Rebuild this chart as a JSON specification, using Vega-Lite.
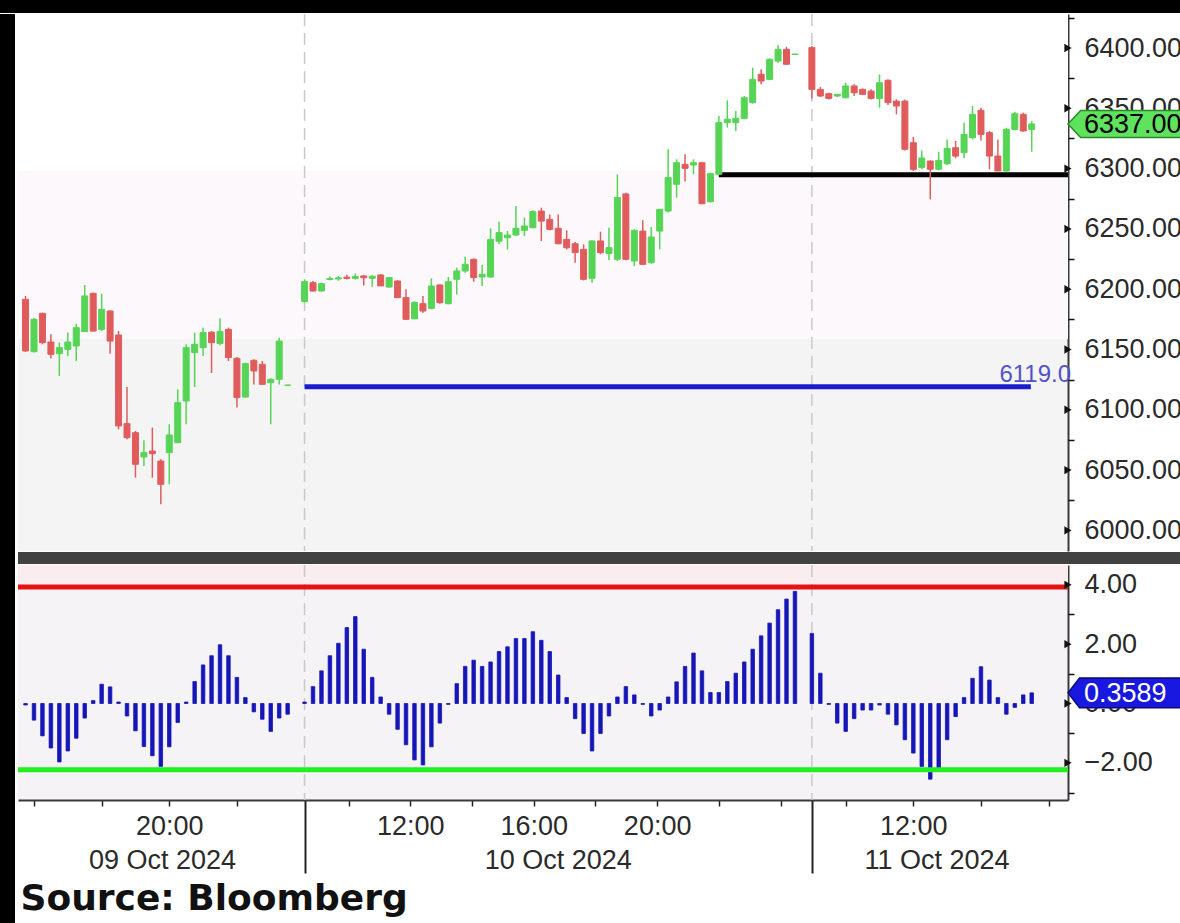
{
  "padding": 0,
  "background": "white",
  "spacing": 0,
  "config": {"view": {"stroke": null}, "text": {"font": "Liberation Sans"}},
  "datasets": {
    "candles": [
      {"s":0,"o":6191.6,"h":6194.4,"l":6148,"c":6148.8},
      {"s":1,"o":6148.2,"h":6176.4,"l":6147.4,"c":6175},
      {"s":2,"o":6180,"h":6180.5,"l":6154.3,"c":6155.7},
      {"s":3,"o":6156.2,"h":6162.6,"l":6142.7,"c":6146},
      {"s":4,"o":6146.5,"h":6155.7,"l":6128,"c":6151.5},
      {"s":5,"o":6150.1,"h":6164,"l":6144.6,"c":6156.2},
      {"s":6,"o":6152.9,"h":6171.4,"l":6140.5,"c":6168.1},
      {"s":7,"o":6164.8,"h":6203.5,"l":6164.8,"c":6194.4},
      {"s":8,"o":6196.6,"h":6197.1,"l":6164.8,"c":6165.3},
      {"s":9,"o":6166.7,"h":6196.3,"l":6165.3,"c":6183.3},
      {"s":10,"o":6181.9,"h":6182.5,"l":6146.5,"c":6157},
      {"s":11,"o":6162,"h":6165.3,"l":6083.8,"c":6086.6},
      {"s":12,"o":6088.5,"h":6118.9,"l":6075.5,"c":6076.9},
      {"s":13,"o":6081,"h":6082.4,"l":6043.7,"c":6054.8},
      {"s":14,"o":6060.9,"h":6074.7,"l":6053.4,"c":6064.5},
      {"s":15,"o":6065.8,"h":6085.2,"l":6043.7,"c":6063.6},
      {"s":16,"o":6057.5,"h":6058.9,"l":6021.6,"c":6038.2},
      {"s":17,"o":6064.5,"h":6088,"l":6038.2,"c":6079.1},
      {"s":18,"o":6072.7,"h":6117,"l":6072.7,"c":6105.9},
      {"s":19,"o":6107.3,"h":6154.3,"l":6088,"c":6151.5},
      {"s":20,"o":6147.4,"h":6164,"l":6118.9,"c":6154.3},
      {"s":21,"o":6151.5,"h":6168.1,"l":6144.6,"c":6164},
      {"s":22,"o":6164.3,"h":6165.3,"l":6130.5,"c":6155.7},
      {"s":23,"o":6155,"h":6176,"l":6153.5,"c":6165},
      {"s":24,"o":6166.7,"h":6168.1,"l":6140.5,"c":6143.3},
      {"s":25,"o":6142.7,"h":6143.8,"l":6101.8,"c":6110.1},
      {"s":26,"o":6110.6,"h":6139.1,"l":6110.1,"c":6138.3},
      {"s":27,"o":6141,"h":6141.9,"l":6121,"c":6132.2},
      {"s":28,"o":6137.7,"h":6140.5,"l":6121,"c":6121.1},
      {"s":29,"o":6122.5,"h":6126,"l":6088,"c":6125.3},
      {"s":30,"o":6125.3,"h":6159.8,"l":6121,"c":6157},
      {"s":31,"o":6120.3,"h":6120.6,"l":6120,"c":6120.5},
      {"s":33,"o":6189.7,"h":6208.2,"l":6189,"c":6206.3},
      {"s":34,"o":6205.4,"h":6206.8,"l":6198,"c":6198.5},
      {"s":35,"o":6198.5,"h":6205.4,"l":6198,"c":6204.6},
      {"s":36,"o":6208,"h":6210.5,"l":6207.5,"c":6208.8},
      {"s":37,"o":6208.5,"h":6211,"l":6207,"c":6209.4},
      {"s":38,"o":6210,"h":6212,"l":6208,"c":6209},
      {"s":39,"o":6209,"h":6213,"l":6208,"c":6210.5},
      {"s":40,"o":6211,"h":6211.5,"l":6203,"c":6209.5},
      {"s":41,"o":6209,"h":6211.5,"l":6202,"c":6210.8},
      {"s":42,"o":6211.8,"h":6212.4,"l":6202.7,"c":6202.7},
      {"s":43,"o":6201.8,"h":6210.1,"l":6201.3,"c":6209.6},
      {"s":44,"o":6206.8,"h":6207.4,"l":6193,"c":6193},
      {"s":45,"o":6193,"h":6199.9,"l":6175,"c":6175},
      {"s":46,"o":6175.5,"h":6190,"l":6175,"c":6189},
      {"s":47,"o":6188,"h":6194.4,"l":6180.5,"c":6181.9},
      {"s":48,"o":6184.1,"h":6209,"l":6183.3,"c":6202.6},
      {"s":49,"o":6203.5,"h":6204,"l":6188,"c":6188.8},
      {"s":50,"o":6188,"h":6210.1,"l":6187.4,"c":6206.2},
      {"s":51,"o":6208.2,"h":6217.8,"l":6195.7,"c":6215.1},
      {"s":52,"o":6215.1,"h":6226.7,"l":6213.7,"c":6220.6},
      {"s":53,"o":6224.8,"h":6225.6,"l":6206.2,"c":6209.6},
      {"s":54,"o":6210.1,"h":6220,"l":6202.6,"c":6212.3},
      {"s":55,"o":6210.1,"h":6250.5,"l":6209.6,"c":6241.3},
      {"s":56,"o":6239.8,"h":6256,"l":6237.2,"c":6246.9},
      {"s":57,"o":6242.7,"h":6248.2,"l":6233,"c":6244.9},
      {"s":58,"o":6244.9,"h":6269,"l":6244.1,"c":6250.5},
      {"s":59,"o":6248.8,"h":6259.3,"l":6244.1,"c":6252.4},
      {"s":60,"o":6251,"h":6265.4,"l":6250.5,"c":6264.3},
      {"s":61,"o":6264.8,"h":6267.6,"l":6240,"c":6256.5},
      {"s":62,"o":6257.9,"h":6262,"l":6248.8,"c":6249.6},
      {"s":63,"o":6250.5,"h":6262,"l":6237.2,"c":6237.7},
      {"s":64,"o":6241.3,"h":6248.8,"l":6233,"c":6234.4},
      {"s":65,"o":6237.7,"h":6239.1,"l":6222,"c":6230.3},
      {"s":66,"o":6233,"h":6237.2,"l":6207.3,"c":6208.2},
      {"s":67,"o":6209,"h":6240.5,"l":6205.4,"c":6240},
      {"s":68,"o":6240,"h":6247.7,"l":6228.9,"c":6230.3},
      {"s":69,"o":6229.5,"h":6251,"l":6223.9,"c":6234.4},
      {"s":70,"o":6224.8,"h":6295.2,"l":6223.4,"c":6276},
      {"s":71,"o":6279,"h":6280,"l":6224,"c":6224.8},
      {"s":72,"o":6223.4,"h":6249.6,"l":6219.2,"c":6248.8},
      {"s":73,"o":6248.2,"h":6257.1,"l":6220.6,"c":6220.6},
      {"s":74,"o":6222,"h":6251.6,"l":6221.2,"c":6243.3},
      {"s":75,"o":6248.2,"h":6266.2,"l":6233.1,"c":6266.2},
      {"s":76,"o":6264.8,"h":6316,"l":6263.5,"c":6292.5},
      {"s":77,"o":6287,"h":6307.7,"l":6275.9,"c":6304.9},
      {"s":78,"o":6303.5,"h":6311.8,"l":6289.2,"c":6300.2},
      {"s":79,"o":6303,"h":6307.7,"l":6295.3,"c":6304.9},
      {"s":80,"o":6304.9,"h":6305.7,"l":6270.4,"c":6270.9},
      {"s":81,"o":6272.6,"h":6296.6,"l":6271.8,"c":6295.8},
      {"s":82,"o":6295.3,"h":6343.6,"l":6294.7,"c":6338.1},
      {"s":83,"o":6338.1,"h":6356.6,"l":6334,"c":6340.9},
      {"s":84,"o":6338.1,"h":6347.8,"l":6331.2,"c":6341.7},
      {"s":85,"o":6341.7,"h":6360.2,"l":6340.9,"c":6358.8},
      {"s":86,"o":6354.7,"h":6383.7,"l":6353.8,"c":6374},
      {"s":87,"o":6378.2,"h":6382.3,"l":6369.9,"c":6372.6},
      {"s":88,"o":6374,"h":6391.4,"l":6373.2,"c":6390.6},
      {"s":89,"o":6389.2,"h":6402.5,"l":6387.8,"c":6398.9},
      {"s":90,"o":6398.9,"h":6400.8,"l":6386.5,"c":6386.5},
      {"s":91,"o":6394.6,"h":6395.2,"l":6394.5,"c":6395},
      {"s":93,"o":6400.3,"h":6401.7,"l":6358.2,"c":6365.7},
      {"s":94,"o":6365.7,"h":6367.6,"l":6359.3,"c":6360.2},
      {"s":95,"o":6362.1,"h":6362.9,"l":6357.4,"c":6358.2},
      {"s":96,"o":6360.2,"h":6362.1,"l":6359.3,"c":6361.6},
      {"s":97,"o":6358.8,"h":6371.2,"l":6358.2,"c":6368.5},
      {"s":98,"o":6368.5,"h":6369.9,"l":6360.2,"c":6362.9},
      {"s":99,"o":6365.7,"h":6366.5,"l":6361,"c":6361.6},
      {"s":100,"o":6364.3,"h":6365.7,"l":6357.4,"c":6358.2},
      {"s":101,"o":6358.2,"h":6378.1,"l":6350.5,"c":6371.2},
      {"s":102,"o":6373.2,"h":6374,"l":6352.7,"c":6354.7},
      {"s":103,"o":6356,"h":6357.4,"l":6345,"c":6351.9},
      {"s":104,"o":6356,"h":6357.4,"l":6315.1,"c":6316},
      {"s":105,"o":6321.5,"h":6326.2,"l":6298,"c":6299.4},
      {"s":106,"o":6301,"h":6315.1,"l":6299.4,"c":6308.8},
      {"s":107,"o":6306.3,"h":6306.8,"l":6274.5,"c":6299.4},
      {"s":108,"o":6299.4,"h":6314,"l":6298.5,"c":6306.8},
      {"s":109,"o":6304,"h":6324.2,"l":6303,"c":6316.8},
      {"s":110,"o":6317.3,"h":6322.9,"l":6308.5,"c":6310.4},
      {"s":111,"o":6313.2,"h":6338,"l":6308.5,"c":6328.4},
      {"s":112,"o":6325.6,"h":6351.9,"l":6324.2,"c":6345},
      {"s":113,"o":6348.3,"h":6350.5,"l":6323.4,"c":6328.4},
      {"s":114,"o":6329.8,"h":6331.2,"l":6299.4,"c":6310.4},
      {"s":115,"o":6310.4,"h":6324.2,"l":6298,"c":6298},
      {"s":116,"o":6298,"h":6333.9,"l":6297.4,"c":6332.5},
      {"s":117,"o":6332.5,"h":6347.2,"l":6331.7,"c":6345.5},
      {"s":118,"o":6345,"h":6346.4,"l":6330.6,"c":6331.2},
      {"s":119,"o":6332.5,"h":6339.4,"l":6314,"c":6337}
    ],
    "osc": [
      {"s":0,"v":-0.05},{"s":1,"v":-0.56},{"s":2,"v":-1.09},{"s":3,"v":-1.5},{"s":4,"v":-1.97},{"s":5,"v":-1.6},{"s":6,"v":-1.17},{"s":7,"v":-0.49},
      {"s":8,"v":0.1},{"s":9,"v":0.65},{"s":10,"v":0.56},{"s":11,"v":0.05},{"s":12,"v":-0.42},{"s":13,"v":-0.92},{"s":14,"v":-1.45},{"s":15,"v":-1.76},
      {"s":16,"v":-2.12},{"s":17,"v":-1.46},{"s":18,"v":-0.64},{"s":19,"v":0.05},{"s":20,"v":0.74},{"s":21,"v":1.3},{"s":22,"v":1.61},{"s":23,"v":1.98},
      {"s":24,"v":1.61},{"s":25,"v":0.88},{"s":26,"v":0.2},{"s":27,"v":-0.28},{"s":28,"v":-0.53},{"s":29,"v":-0.94},{"s":30,"v":-0.49},{"s":31,"v":-0.36},
      {"s":33,"v":0.05},{"s":34,"v":0.57},{"s":35,"v":1.1},{"s":36,"v":1.61},{"s":37,"v":2.03},{"s":38,"v":2.56},{"s":39,"v":2.93},{"s":40,"v":1.83},
      {"s":41,"v":0.88},{"s":42,"v":0.22},{"s":43,"v":-0.36},{"s":44,"v":-0.87},{"s":45,"v":-1.39},{"s":46,"v":-1.9},{"s":47,"v":-2.07},{"s":48,"v":-1.46},
      {"s":49,"v":-0.66},{"s":50,"v":-0.03},{"s":51,"v":0.67},{"s":52,"v":1.25},{"s":53,"v":1.46},{"s":54,"v":1.25},{"s":55,"v":1.4},{"s":56,"v":1.75},
      {"s":57,"v":1.91},{"s":58,"v":2.19},{"s":59,"v":2.19},{"s":60,"v":2.42},{"s":61,"v":2.13},{"s":62,"v":1.75},{"s":63,"v":0.96},{"s":64,"v":0.2},
      {"s":65,"v":-0.51},{"s":66,"v":-1.01},{"s":67,"v":-1.6},{"s":68,"v":-1.01},{"s":69,"v":-0.42},{"s":70,"v":0.22},{"s":71,"v":0.57},{"s":72,"v":0.29},
      {"s":73,"v":-0.03},{"s":74,"v":-0.42},{"s":75,"v":-0.22},{"s":76,"v":0.22},{"s":77,"v":0.73},{"s":78,"v":1.25},{"s":79,"v":1.7},{"s":80,"v":1.1},
      {"s":81,"v":0.37},{"s":82,"v":0.37},{"s":83,"v":0.74},{"s":84,"v":1.02},{"s":85,"v":1.4},{"s":86,"v":1.83},{"s":87,"v":2.28},{"s":88,"v":2.71},
      {"s":89,"v":3.16},{"s":90,"v":3.52},{"s":91,"v":3.78},
      {"s":93,"v":2.36},{"s":94,"v":1.02},{"s":95,"v":-0.03},{"s":96,"v":-0.66},{"s":97,"v":-0.94},{"s":98,"v":-0.51},{"s":99,"v":-0.22},{"s":100,"v":-0.22},
      {"s":101,"v":-0.05},{"s":102,"v":-0.36},{"s":103,"v":-0.72},{"s":104,"v":-1.22},{"s":105,"v":-1.67},{"s":106,"v":-2.12},{"s":107,"v":-2.55},{"s":108,"v":-2.19},
      {"s":109,"v":-1.22},{"s":110,"v":-0.44},{"s":111,"v":0.2},{"s":112,"v":0.85},{"s":113,"v":1.24},{"s":114,"v":0.79},{"s":115,"v":0.2},{"s":116,"v":-0.36},
      {"s":117,"v":-0.13},{"s":118,"v":0.29},{"s":119,"v":0.3589}
    ],
    "seps": [{"s": 33}, {"s": 93}],
    "priceTicks": [{"p": 6000}, {"p": 6050}, {"p": 6100}, {"p": 6150}, {"p": 6200}, {"p": 6250}, {"p": 6300}, {"p": 6350}, {"p": 6400}],
    "oscTicks": [{"v": -2}, {"v": 0}, {"v": 2}, {"v": 4}]
  },
  "vconcat": [
    {
      "width": 1180, "height": 13,
      "view": {"fill": "#000000", "stroke": null},
      "data": {"values": [{}]},
      "mark": {"type": "point", "opacity": 0},
      "encoding": {}
    },
    {
      "spacing": 0,
      "hconcat": [
        {
          "width": 15, "height": 910,
          "view": {"fill": "#000000", "stroke": null},
          "data": {"values": [{}]},
          "mark": {"type": "point", "opacity": 0},
          "encoding": {}
        },
        {
          "spacing": 0,
          "title": {"text": "Source: Bloomberg", "orient": "bottom", "anchor": "start", "frame": "bounds", "font": "DejaVu Sans", "fontSize": 36, "fontWeight": "bold", "color": "#111111", "baseline": "top", "offset": 8, "dx": 5},
          "vconcat": [
            {
              "width": 1050, "height": 537,
              "view": {"fill": "#f4f4f5", "stroke": null},
              "resolve": {"axis": {"x": "independent", "y": "independent"}},
              "layer": [
                {
                  "data": {"values": [{"lo": 6298, "hi": 6428.2}]},
                  "mark": {"type": "rect", "color": "#ffffff"},
                  "encoding": {
                    "x": {"value": 0}, "x2": {"value": "width"},
                    "y": {"field": "lo", "type": "quantitative", "scale": {"domain": [5982.9, 6428.2], "nice": false, "zero": false},
                      "axis": {"orient": "right", "title": null, "grid": false,
                        "values": [6000, 6050, 6100, 6150, 6200, 6250, 6300, 6350, 6400],
                        "format": ".2f", "ticks": false,
                        "domainColor": "#3a3a3a", "domainWidth": 2,
                        "labelPadding": 16, "labelFont": "Liberation Sans", "labelFontSize": 27, "labelColor": "#2a2a2a",
                        "labelOverlap": false, "labelBound": false, "labelFlush": false}},
                    "y2": {"field": "hi"}
                  }
                },
                {
                  "data": {"values": [{"lo": 6158.7, "hi": 6298}]},
                  "mark": {"type": "rect", "color": "#fcf8fb"},
                  "encoding": {
                    "x": {"value": 0}, "x2": {"value": "width"},
                    "y": {"field": "lo", "type": "quantitative", "axis": null},
                    "y2": {"field": "hi"}
                  }
                },
                {
                  "data": {"name": "seps"},
                  "mark": {"type": "rule", "color": "#c9c9c9", "strokeWidth": 1.5, "strokeDash": [12, 7]},
                  "encoding": {"x": {"field": "s", "type": "quantitative", "scale": {"domain": [-0.3, 122.7], "nice": false, "zero": false}, "axis": null}}
                },
                {
                  "data": {"values": [{"s": 33, "e": 118.9, "p": 6119}]},
                  "mark": {"type": "rule", "color": "#1c1ccf", "strokeWidth": 5},
                  "encoding": {
                    "x": {"field": "s", "type": "quantitative", "scale": {"domain": [-0.3, 122.7], "nice": false, "zero": false}, "axis": null},
                    "x2": {"field": "e"},
                    "y": {"field": "p", "type": "quantitative", "axis": null}
                  }
                },
                {
                  "data": {"values": [{"s": 82, "p": 6295}]},
                  "mark": {"type": "rule", "color": "#000000", "strokeWidth": 5},
                  "encoding": {
                    "x": {"field": "s", "type": "quantitative", "scale": {"domain": [-0.3, 122.7], "nice": false, "zero": false}, "axis": null},
                    "x2": {"value": "width"},
                    "y": {"field": "p", "type": "quantitative", "axis": null}
                  }
                },
                {
                  "data": {"name": "candles"},
                  "mark": {"type": "rule", "strokeWidth": 1.5},
                  "encoding": {
                    "x": {"field": "s", "type": "quantitative", "scale": {"domain": [-0.3, 122.7], "nice": false, "zero": false}, "axis": null},
                    "y": {"field": "l", "type": "quantitative",
                      "axis": {"orient": "right", "title": null, "grid": false, "labels": false, "domain": false,
                        "values": [6025, 6075, 6125, 6175, 6225, 6275, 6325, 6375, 6425],
                        "tickSize": 6, "tickWidth": 1.5, "tickColor": "#111111"}},
                    "y2": {"field": "h"},
                    "color": {"condition": {"test": "datum.c >= datum.o", "value": "#56d456"}, "value": "#e05c5c"}
                  }
                },
                {
                  "data": {"name": "candles"},
                  "mark": {"type": "bar", "size": 6, "strokeWidth": 1},
                  "encoding": {
                    "x": {"field": "s", "type": "quantitative", "scale": {"domain": [-0.3, 122.7], "nice": false, "zero": false}, "axis": null},
                    "y": {"field": "o", "type": "quantitative", "axis": null},
                    "y2": {"field": "c"},
                    "fill": {"condition": {"test": "datum.c >= datum.o", "value": "#56d456"}, "value": "#e05c5c"},
                    "stroke": {"condition": {"test": "datum.c >= datum.o", "value": "#56d456"}, "value": "#e05c5c"}
                  }
                },
                {
                  "data": {"values": [{"p": 6119, "t": "6119.0"}]},
                  "mark": {"type": "text", "align": "right", "baseline": "alphabetic", "dx": 3, "dy": -5, "fontSize": 24, "color": "#5252cc"},
                  "encoding": {
                    "x": {"value": "width"},
                    "y": {"field": "p", "type": "quantitative", "axis": null},
                    "text": {"field": "t"}
                  }
                },
                {
                  "data": {"name": "priceTicks"},
                  "mark": {"type": "point", "shape": "triangle-right", "filled": true, "opacity": 1, "size": 70, "color": "#111111", "dx": 5, "clip": false},
                  "encoding": {
                    "x": {"value": "width"},
                    "y": {"field": "p", "type": "quantitative", "axis": null}
                  }
                },
                {
                  "data": {"values": [{"p": 6337, "t": "6337.00"}]},
                  "mark": {"type": "point", "filled": true, "opacity": 1, "shape": "M0,0L0.11,-0.118L0.985,-0.118L0.985,0.118L0.11,0.118Z", "size": 52900, "fill": "#5fe35f", "stroke": "#2a8a2a", "strokeWidth": 1.5, "clip": false},
                  "encoding": {
                    "x": {"value": "width"},
                    "y": {"field": "p", "type": "quantitative", "axis": null}
                  }
                },
                {
                  "data": {"values": [{"p": 6337, "t": "6337.00"}]},
                  "mark": {"type": "text", "align": "left", "baseline": "middle", "dx": 16, "dy": 1, "fontSize": 27, "color": "#000000", "clip": false},
                  "encoding": {
                    "x": {"value": "width"},
                    "y": {"field": "p", "type": "quantitative", "axis": null},
                    "text": {"field": "t"}
                  }
                }
              ]
            },
            {
              "width": 1165, "height": 12,
              "view": {"fill": "#424242", "stroke": null},
              "data": {"values": [{}]},
              "mark": {"type": "point", "opacity": 0},
              "encoding": {}
            },
            {
              "width": 1050, "height": 235,
              "view": {"fill": "#f6f3f6", "stroke": null},
              "resolve": {"axis": {"x": "independent", "y": "independent"}},
              "layer": [
                {
                  "data": {"values": [{"lo": 3.93, "hi": 4.668}]},
                  "mark": {"type": "rect", "color": "#f9edef"},
                  "encoding": {
                    "x": {"value": 0}, "x2": {"value": "width"},
                    "y": {"field": "lo", "type": "quantitative", "scale": {"domain": [-3.252, 4.668], "nice": false, "zero": false},
                      "axis": {"orient": "right", "title": null, "grid": false,
                        "values": [-2, 0, 2, 4],
                        "format": ".2f", "ticks": false,
                        "domainColor": "#3a3a3a", "domainWidth": 2,
                        "labelPadding": 16, "labelFont": "Liberation Sans", "labelFontSize": 27, "labelColor": "#2a2a2a",
                        "labelOverlap": false, "labelBound": false, "labelFlush": false}},
                    "y2": {"field": "hi"}
                  }
                },
                {
                  "data": {"name": "seps"},
                  "mark": {"type": "rule", "color": "#c9c9c9", "strokeWidth": 1.5, "strokeDash": [12, 7]},
                  "encoding": {"x": {"field": "s", "type": "quantitative", "scale": {"domain": [-0.3, 122.7], "nice": false, "zero": false},
                    "axis": {"orient": "bottom", "title": null, "grid": false, "values": [33, 93], "labels": false, "domain": false,
                      "tickSize": 73, "tickWidth": 2, "tickColor": "#222222"}}}
                },
                {
                  "data": {"name": "osc"},
                  "mark": {"type": "bar", "size": 3.5, "color": "#1616b8", "stroke": "#1616b8", "strokeWidth": 0.8},
                  "encoding": {
                    "x": {"field": "s", "type": "quantitative", "scale": {"domain": [-0.3, 122.7], "nice": false, "zero": false},
                      "axis": {"orient": "bottom", "title": null, "grid": false,
                        "values": [1, 9, 17, 25, 38.2, 45.5, 52.8, 60.1, 67.4, 74.7, 82, 89.3, 97, 105, 113, 121],
                        "labelExpr": "datum.value == 17 ? '20:00' : datum.value == 45.5 ? '12:00' : datum.value == 60.1 ? '16:00' : datum.value == 74.7 ? '20:00' : datum.value == 105 ? '12:00' : ''",
                        "tickSize": 6, "tickWidth": 1.5,
                        "tickColor": "#222222", "domainColor": "#3a3a3a", "domainWidth": 2,
                        "labelPadding": 7, "labelFont": "Liberation Sans", "labelFontSize": 27, "labelColor": "#2a2a2a",
                        "labelOverlap": false, "labelBound": false, "labelFlush": false}},
                    "y": {"field": "v", "type": "quantitative",
                      "axis": {"orient": "right", "title": null, "grid": false, "labels": false, "domain": false,
                        "values": [-3, -1, 1, 3], "tickSize": 6, "tickWidth": 1.5, "tickColor": "#111111"}},
                    "y2": {"datum": 0}
                  }
                },
                {
                  "data": {"values": [{"lvl": 3.93}]},
                  "mark": {"type": "rule", "strokeWidth": 5, "color": "#e41414"},
                  "encoding": {"y": {"field": "lvl", "type": "quantitative", "axis": null}}
                },
                {
                  "data": {"values": [{"lvl": -2.23}]},
                  "mark": {"type": "rule", "strokeWidth": 5, "color": "#22ee22"},
                  "encoding": {"y": {"field": "lvl", "type": "quantitative", "axis": null}}
                },
                {
                  "data": {"values": [{"s": 16.2, "d": "09 Oct 2024"}, {"s": 63, "d": "10 Oct 2024"}, {"s": 107.8, "d": "11 Oct 2024"}]},
                  "mark": {"type": "text", "align": "center", "baseline": "alphabetic", "dy": 69, "fontSize": 27, "color": "#2a2a2a", "clip": false},
                  "encoding": {
                    "x": {"field": "s", "type": "quantitative", "scale": {"domain": [-0.3, 122.7], "nice": false, "zero": false}, "axis": null},
                    "y": {"value": "height"},
                    "text": {"field": "d"}
                  }
                },
                {
                  "data": {"name": "oscTicks"},
                  "mark": {"type": "point", "shape": "triangle-right", "filled": true, "opacity": 1, "size": 70, "color": "#111111", "dx": 5, "clip": false},
                  "encoding": {
                    "x": {"value": "width"},
                    "y": {"field": "v", "type": "quantitative", "axis": null}
                  }
                },
                {
                  "data": {"values": [{"v": 0.3589, "t": "0.3589"}]},
                  "mark": {"type": "point", "filled": true, "opacity": 1, "shape": "M0,0L0.1,-0.13L0.985,-0.13L0.985,0.13L0.1,0.13Z", "size": 52900, "fill": "#1818e0", "stroke": "#0a0a70", "strokeWidth": 1.5, "clip": false},
                  "encoding": {
                    "x": {"value": "width"},
                    "y": {"field": "v", "type": "quantitative", "axis": null}
                  }
                },
                {
                  "data": {"values": [{"v": 0.3589, "t": "0.3589"}]},
                  "mark": {"type": "text", "align": "left", "baseline": "middle", "dx": 16, "dy": 1, "fontSize": 27, "color": "#ffffff", "clip": false},
                  "encoding": {
                    "x": {"value": "width"},
                    "y": {"field": "v", "type": "quantitative", "axis": null},
                    "text": {"field": "t"}
                  }
                }
              ]
            }
          ]
        }
      ]
    }
  ]
}
